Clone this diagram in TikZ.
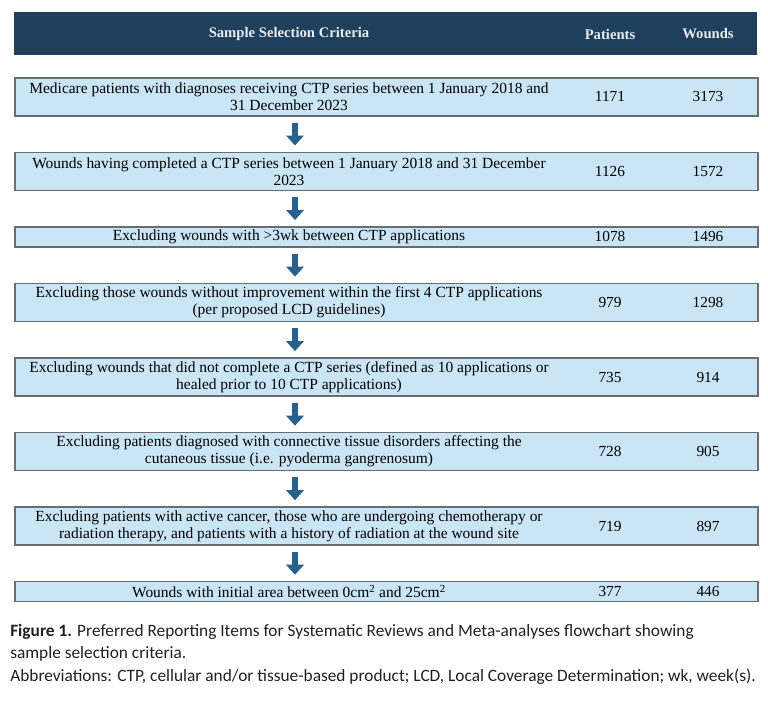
\documentclass[tikz,border=0pt]{standalone}
\usepackage{fontspec}
\setmainfont{Liberation Serif}
\newfontfamily\capfont{Carlito}
\usetikzlibrary{positioning,arrows.meta}

\definecolor{headnavy}{RGB}{31,64,93}
\definecolor{headtext}{RGB}{232,234,238}
\definecolor{boxblue}{RGB}{202,229,245}
\definecolor{boxgray}{RGB}{105,108,112}
\definecolor{arrblue}{RGB}{42,96,140}
\definecolor{captext}{RGB}{35,31,32}

\tikzset{
  rowbox/.style={draw=boxgray, fill=boxblue, line width=1.3pt,
    minimum width=557.25pt, minimum height=28.5pt, inner sep=0pt},
  onerow/.style={rowbox, minimum height=15pt},
  crit/.style={align=center, inner sep=0pt, font=\fontsize{11.6}{12.75}\selectfont},
  num/.style={inner sep=0pt, font=\fontsize{11.5}{12.75}\selectfont},
  headtxt/.style={text=headtext, inner sep=0pt, font=\bfseries\fontsize{11}{13}\selectfont},
  downarr/.style={draw=arrblue, line width=4.8pt, shorten <=4.5pt, shorten >=4.5pt,
    -{Triangle[width=13pt,length=7.5pt]}}
}

\begin{document}
\begin{tikzpicture}[x=0.75pt, y=-0.75pt, node distance=26.1pt]
    \useasboundingbox (0,0) rectangle (768,704);

    % header bar
    \node[fill=headnavy, minimum width=557.25pt, minimum height=32.25pt,
          inner sep=0pt, anchor=north west] (head) at (14,12) {};
    \node[headtxt] (hcrit) at (289,34) {Sample Selection Criteria};
    \node[headtxt] (hpat)  at (610,34) {Patients};
    \node[headtxt] (hwnd)  at (708,34) {Wounds};

    % rows
    \node[rowbox, anchor=north west] (row1) at (14,77) {};
    \node[rowbox, below=of row1] (row2) {};
    \node[onerow, below=of row2] (row3) {};
    \node[rowbox, below=of row3] (row4) {};
    \node[rowbox, below=of row4] (row5) {};
    \node[rowbox, below=of row5] (row6) {};
    \node[rowbox, below=of row6] (row7) {};
    \node[onerow, below=of row7] (row8) {};

    \node[crit] (crit1) at (row1 -| hcrit) {Medicare patients with diagnoses receiving CTP series between 1 January 2018 and\\31 December 2023};
    \node[crit] (crit2) at (row2 -| hcrit) {Wounds having completed a CTP series between 1 January 2018 and 31 December\\2023};
    \node[crit] (crit3) at (row3 -| hcrit) {Excluding wounds with >3wk between CTP applications};
    \node[crit] (crit4) at (row4 -| hcrit) {Excluding those wounds without improvement within the first 4 CTP applications\\(per proposed LCD guidelines)};
    \node[crit] (crit5) at (row5 -| hcrit) {Excluding wounds that did not complete a CTP series (defined as 10 applications or\\healed prior to 10 CTP applications)};
    \node[crit] (crit6) at (row6 -| hcrit) {Excluding patients diagnosed with connective tissue disorders affecting the\\cutaneous tissue (i.e. pyoderma gangrenosum)};
    \node[crit] (crit7) at (row7 -| hcrit) {Excluding patients with active cancer, those who are undergoing chemotherapy or\\radiation therapy, and patients with a history of radiation at the wound site};
    \node[crit] (crit8) at (row8 -| hcrit) {Wounds with initial area between 0cm\textsuperscript{2} and 25cm\textsuperscript{2}};

    \node[num] (pat1) at (row1 -| hpat) {1171};
    \node[num] (pat2) at (row2 -| hpat) {1126};
    \node[num] (pat3) at (row3 -| hpat) {1078};
    \node[num] (pat4) at (row4 -| hpat) {979};
    \node[num] (pat5) at (row5 -| hpat) {735};
    \node[num] (pat6) at (row6 -| hpat) {728};
    \node[num] (pat7) at (row7 -| hpat) {719};
    \node[num] (pat8) at (row8 -| hpat) {377};

    \node[num] (wnd1) at (row1 -| hwnd) {3173};
    \node[num] (wnd2) at (row2 -| hwnd) {1572};
    \node[num] (wnd3) at (row3 -| hwnd) {1496};
    \node[num] (wnd4) at (row4 -| hwnd) {1298};
    \node[num] (wnd5) at (row5 -| hwnd) {914};
    \node[num] (wnd6) at (row6 -| hwnd) {905};
    \node[num] (wnd7) at (row7 -| hwnd) {897};
    \node[num] (wnd8) at (row8 -| hwnd) {446};

    % arrows between rows
    \coordinate (arrx) at (295,0);
    \draw[downarr] (row1.south -| arrx) -- (row2.north -| arrx);
    \draw[downarr] (row2.south -| arrx) -- (row3.north -| arrx);
    \draw[downarr] (row3.south -| arrx) -- (row4.north -| arrx);
    \draw[downarr] (row4.south -| arrx) -- (row5.north -| arrx);
    \draw[downarr] (row5.south -| arrx) -- (row6.north -| arrx);
    \draw[downarr] (row6.south -| arrx) -- (row7.north -| arrx);
    \draw[downarr] (row7.south -| arrx) -- (row8.north -| arrx);

    % caption
    \node[anchor=north west, align=left, inner sep=0pt, text=captext,
          font=\capfont\fontsize{13}{16.8}\selectfont] (caption) at (10,624)
      {\textbf{Figure 1.} Preferred Reporting Items for Systematic Reviews and Meta-analyses flowchart showing\\
       sample selection criteria.\\
       Abbreviations: CTP, cellular and/or tissue-based product; LCD, Local Coverage Determination; wk, week(s).};
\end{tikzpicture}
\end{document}
